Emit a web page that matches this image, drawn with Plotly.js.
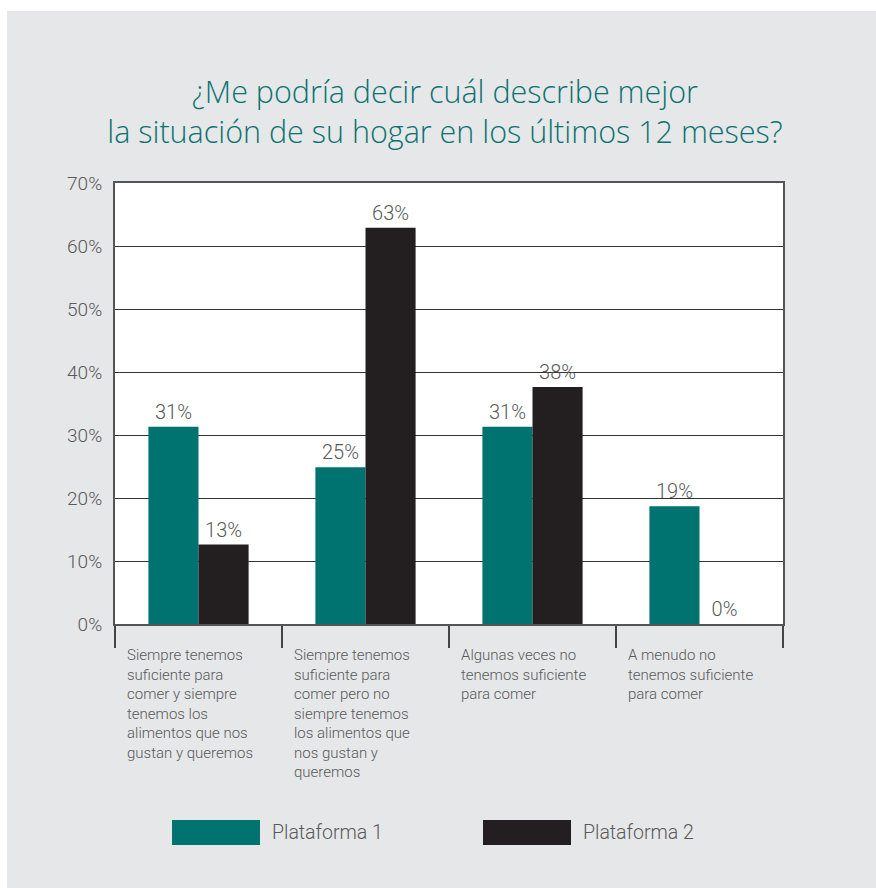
<!DOCTYPE html>
<html>
<head>
<meta charset="utf-8">
<script src="https://cdn.plot.ly/plotly-3.0.1.min.js"></script>
<style>
  html, body { margin: 0; padding: 0; background: #ffffff; width: 876px; height: 888px; overflow: hidden; }
  #chart { position: absolute; left: 7px; top: 11px; width: 869px; height: 877px; }
</style>
</head>
<body>
<div id="chart"></div>
<script>
// ---- data ----
var categories = [
  "Siempre tenemos<br>suficiente para<br>comer y siempre<br>tenemos los<br>alimentos que nos<br>gustan y queremos",
  "Siempre tenemos<br>suficiente para<br>comer pero no<br>siempre tenemos<br>los alimentos que<br>nos gustan y<br>queremos",
  "Algunas veces no<br>tenemos suficiente<br>para comer",
  "A menudo no<br>tenemos suficiente<br>para comer"
];
var categoryKeys = ["cat1", "cat2", "cat3", "cat4"];
var seriesNames = ["Plataforma 1", "Plataforma 2"];
var plataforma1 = [31.3, 24.9, 31.3, 18.7];
var plataforma2 = [12.6, 62.9, 37.6, 0];
var seriesColors = ["#007371", "#231f20"];
var yTickVals = [0, 10, 20, 30, 40, 50, 60, 70];
var yTickText = ["0%", "10%", "20%", "30%", "40%", "50%", "60%", "70%"];

var textGray = "#58595b";
var baseFont = "Roboto, 'Liberation Sans', sans-serif";

function barTrace(name, values, color) {
  return {
    type: "bar",
    name: name,
    x: categoryKeys,
    y: values,
    marker: { color: color, line: { width: 0 } },
    texttemplate: "%{y:.0f}%",
    textposition: "outside",
    textfont: { family: baseFont, size: 20, color: textGray, weight: 300 },
    cliponaxis: false,
    showlegend: false,
    hoverinfo: "x+y"
  };
}

var data = [
  barTrace(seriesNames[0], plataforma1, seriesColors[0]),
  barTrace(seriesNames[1], plataforma2, seriesColors[1])
];

// plot area geometry (div pixels) for converting legend positions
var W = 869, H = 877;
var mL = 108, mR = 93, mT = 172, mB = 264;
var pw = W - mL - mR, ph = H - mT - mB;
function px2x(px) { return (px - mL) / pw; }
function py2y(py) { return (H - mB - py) / ph; }

var annotations = categories.map(function (c, i) {
  return {
    text: c,
    xref: "x", yref: "paper",
    x: i - 0.5, y: 0,
    xanchor: "left", yanchor: "top",
    xshift: 10, yshift: -20,
    align: "left",
    showarrow: false,
    font: { family: baseFont, size: 15, color: textGray, weight: 300 }
  };
});

var shapes = [];
var legendSwatchX = [165, 476];
seriesNames.forEach(function (n, i) {
  shapes.push({
    type: "rect", xref: "paper", yref: "paper",
    x0: px2x(legendSwatchX[i]), x1: px2x(legendSwatchX[i] + 88),
    y0: py2y(809), y1: py2y(834),
    fillcolor: seriesColors[i], line: { width: 0 }
  });
  annotations.push({
    text: n,
    xref: "paper", yref: "paper",
    x: px2x(legendSwatchX[i] + 98), y: py2y(821.5),
    xanchor: "left", yanchor: "middle",
    showarrow: false,
    font: { family: baseFont, size: 19.5, color: textGray, weight: 300 }
  });
});

var layout = {
  width: W, height: H,
  margin: { l: mL, r: mR, t: mT, b: mB, pad: 0 },
  paper_bgcolor: "#e6e7e8",
  plot_bgcolor: "#ffffff",
  barmode: "group",
  bargap: 0.4,
  bargroupgap: 0,
  title: {
    text: "¿Me podría decir cuál describe mejor<br>la situación de su hogar en los últimos 12 meses?",
    font: { family: "'Open Sans', Lato, sans-serif", size: 30.5, color: "#0a7370", weight: 300 },
    xref: "container", x: 0.504, xanchor: "center",
    yref: "container", y: 1 - 92 / H, yanchor: "top"
  },
  xaxis: {
    type: "category",
    range: [-0.5, 3.5],
    showticklabels: false,
    ticks: "outside",
    tickson: "boundaries",
    ticklen: 22,
    tickwidth: 2,
    tickcolor: "#444444",
    showline: true,
    linecolor: "#555555",
    linewidth: 2,
    mirror: true,
    showgrid: false,
    fixedrange: true
  },
  yaxis: {
    range: [0, 70],
    tickvals: yTickVals,
    ticktext: yTickText,
    ticks: "",
    ticklabelstandoff: 7,
    tickfont: { family: baseFont, size: 19, color: textGray, weight: 300 },
    showgrid: true,
    gridcolor: "#333333",
    gridwidth: 1,
    zeroline: false,
    showline: true,
    linecolor: "#555555",
    linewidth: 2,
    mirror: true,
    fixedrange: true
  },
  annotations: annotations,
  shapes: shapes,
  showlegend: false
};

Plotly.newPlot("chart", data, layout, { displayModeBar: false, staticPlot: true });
</script>
</body>
</html>
